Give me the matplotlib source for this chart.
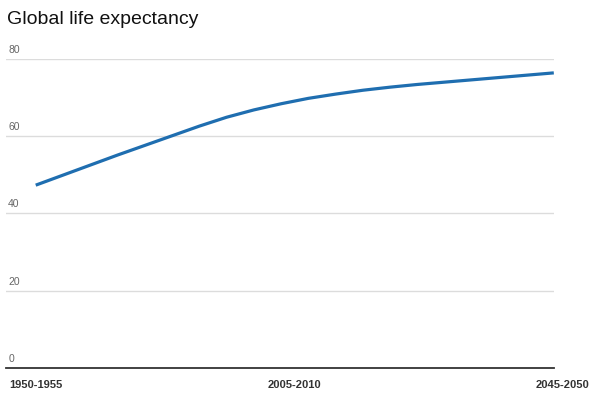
import matplotlib
matplotlib.use("Agg")
import matplotlib.pyplot as plt
import matplotlib.transforms as mtransforms

periods = ["1950-1955", "1955-1960", "1960-1965", "1965-1970", "1970-1975",
           "1975-1980", "1980-1985", "1985-1990", "1990-1995", "1995-2000",
           "2000-2005", "2005-2010", "2010-2015", "2015-2020", "2020-2025",
           "2025-2030", "2030-2035", "2035-2040", "2040-2045", "2045-2050"]
life_expectancy = [47.3, 49.9, 52.5, 55.1, 57.6, 60.1, 62.6, 64.9, 66.8, 68.4,
                   69.8, 70.9, 71.9, 72.7, 73.4, 74.0, 74.6, 75.2, 75.8, 76.4]
y_ticks = [0, 20, 40, 60, 80]
x_label_texts = ["1950-1955", "2005-2010", "2045-2050"]

plt.rcParams['font.family'] = ['Liberation Sans', 'DejaVu Sans']

fig = plt.figure(figsize=(6.0, 4.04), dpi=100)
ax = fig.add_axes([0.01, 0.0899, 0.913, 0.7641])

x = list(range(len(periods)))
ax.plot(x, life_expectancy, color='#1f6eb0', linewidth=2.3,
        solid_capstyle='butt', solid_joinstyle='round', zorder=3)

ax.set_xlim(-1.09, len(periods) - 1)
ax.set_ylim(0, 80)

for s in ax.spines.values():
    s.set_visible(False)
ax.set_xticks([])
ax.set_yticks([])

trans = mtransforms.blended_transform_factory(ax.transAxes, ax.transData)
for v in y_ticks:
    if v == 0:
        ax.axhline(v, color='#333333', linewidth=1.3, zorder=2, clip_on=False)
    else:
        ax.axhline(v, color='#dcdcdc', linewidth=1.0, zorder=1)
    ax.annotate(str(v), xy=(0.004, v), xycoords=trans, xytext=(0, 4),
                textcoords='offset pixels', ha='left', va='bottom',
                fontsize=7.5, color='#666666')

label_pos = [0, (len(periods) - 1) / 2, len(periods) - 1 + 0.33]
for pos, lab in zip(label_pos, x_label_texts):
    ax.annotate(lab, xy=(pos, 0), xycoords='data', xytext=(0, -17),
                textcoords='offset pixels', ha='center', va='center',
                fontsize=8, fontweight='bold', color='#333333',
                annotation_clip=False)

fig.text(7 / 600, 1 - 20 / 404, "Global life expectancy", ha='left',
         va='center', fontsize=14, color='#111111')

fig.savefig("out.png", dpi=100)
